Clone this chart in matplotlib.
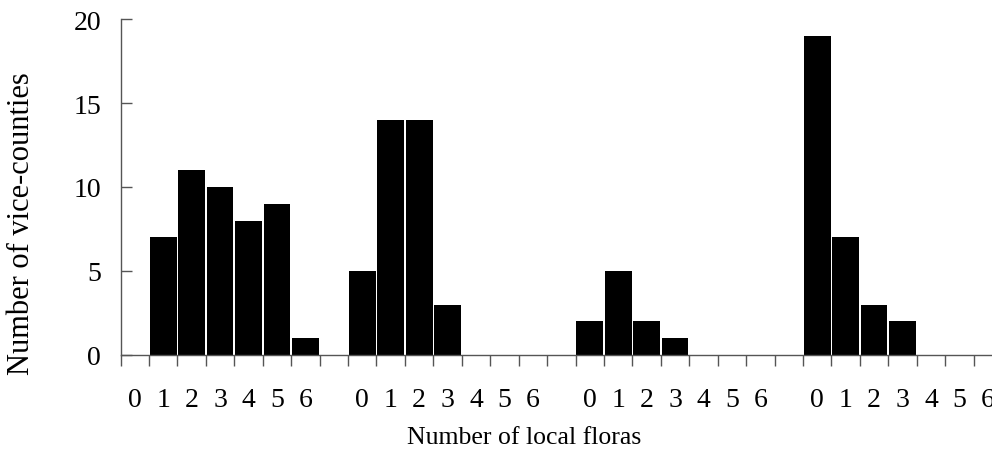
import matplotlib
matplotlib.use("Agg")
import matplotlib.pyplot as plt
import numpy as np

plt.rcParams['font.family'] = ['Liberation Serif', 'DejaVu Serif']

# 31 category slots: four groups of 0..6 separated by blank slots
group_labels = ["0", "1", "2", "3", "4", "5", "6"]
group1 = [0, 7, 11, 10, 8, 9, 1]
group2 = [5, 14, 14, 3, 0, 0, 0]
group3 = [2, 5, 2, 1, 0, 0, 0]
group4 = [19, 7, 3, 2, 0, 0, 0]

labels = group_labels + [""] + group_labels + [""] + group_labels + [""] + group_labels
values = group1 + [0] + group2 + [0] + group3 + [0] + group4
y_ticks = [0, 5, 10, 15, 20]

W, H = 992, 456
fig = plt.figure(figsize=(W / 100, H / 100), dpi=100)
left, right = 120.6, 1002.0
top, bottom = 20.0, 356.0
ax = fig.add_axes([left / W, 1 - bottom / H, (right - left) / W, (bottom - top) / H])

x = np.arange(len(values))
ax.bar(x, values, width=0.94, color='black', edgecolor='none', zorder=2)

ax.set_xlim(-0.5, len(values) - 0.5)
ax.set_ylim(0, 20)

axis_col = '#555555'
for s in ['top', 'right']:
    ax.spines[s].set_visible(False)
for s in ['left', 'bottom']:
    ax.spines[s].set_color(axis_col)
    ax.spines[s].set_linewidth(1.0)

# major ticks at category boundaries, labels at centres
ax.set_xticks(np.arange(len(values) + 1) - 0.5)
ax.set_xticklabels([])
ax.set_xticks(x, minor=True)
ax.set_xticklabels(labels, minor=True, fontsize=20)
ax.tick_params(axis='x', which='major', direction='out', length=8, color=axis_col, width=1)
ax.tick_params(axis='x', which='minor', length=0, pad=23)

ax.set_yticks(y_ticks)
ax.set_yticklabels([str(v) for v in y_ticks], fontsize=20)
ax.tick_params(axis='y', direction='in', length=8, color=axis_col, width=1, pad=14)

fig.text(22 / W, 1 - 224 / H, "Number of vice-counties", rotation=90,
         ha='center', va='center', fontsize=22)
fig.text(524 / W, 1 - 444 / H, "Number of local floras",
         ha='center', va='baseline', fontsize=18.5)

fig.savefig("out.png", dpi=100)
